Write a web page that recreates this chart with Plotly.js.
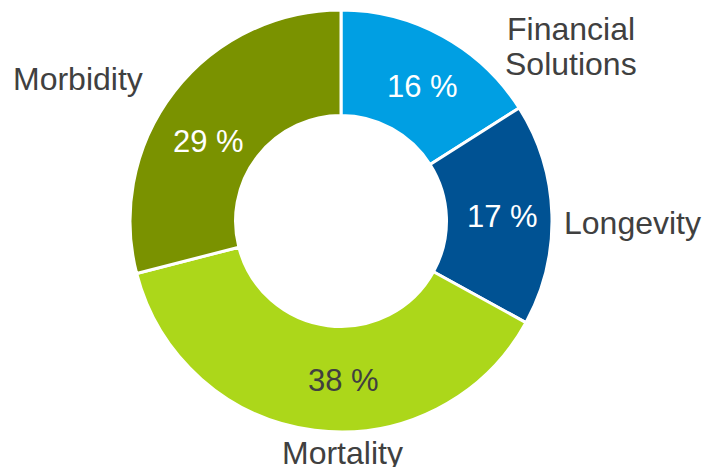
<!DOCTYPE html>
<html>
<head>
<meta charset="utf-8">
<script src="https://cdn.plot.ly/plotly-3.0.1.min.js"></script>
<style>
  html, body { margin: 0; padding: 0; background: #ffffff; }
  #chart { width: 708px; height: 467px; }
</style>
</head>
<body>
<div id="chart"></div>
<script>
// Business mix (share in %), clockwise from 12 o'clock
let segments = ['Financial Solutions', 'Longevity', 'Mortality', 'Morbidity'];
let shares = [16, 17, 38, 29];
let colors = ['#009fe3', '#005293', '#acd71a', '#7a9200'];
let pctColors = ['#ffffff', '#ffffff', '#404040', '#ffffff'];

// outside label lines and where each line sits (pixels in the 708x467 frame)
let labelLines = [['Financial', 'Solutions'], ['Longevity'], ['Mortality'], ['Morbidity']];
let labelPos = [[571, 29], [632, 223], [342, 453], [78, 79]];
// where the percent text sits inside each ring segment
let pctPos = [[422, 87], [502, 217], [343, 380], [208, 141]];

const W = 708, H = 467;
const font = 'Liberation Sans, Arial, sans-serif';
const lineGap = 35;

let trace = {
  type: 'pie',
  labels: segments,
  values: shares,
  sort: false,
  direction: 'clockwise',
  rotation: 0,
  hole: 0.5,
  marker: { colors: colors, line: { color: '#ffffff', width: 3 } },
  textinfo: 'none',
  hoverinfo: 'label+percent',
  showlegend: false,
  domain: { x: [0.1836, 0.7797], y: [0.0750, 0.9786] }
};

let annotations = [];
labelLines.forEach((lines, i) => {
  lines.forEach((t, k) => {
    annotations.push({
      text: t,
      x: labelPos[i][0] / W,
      y: 1 - (labelPos[i][1] + k * lineGap) / H,
      xref: 'paper', yref: 'paper',
      xanchor: 'center', yanchor: 'middle',
      showarrow: false,
      font: { family: font, size: 32, color: '#404040' }
    });
  });
});
shares.forEach((v, i) => {
  annotations.push({
    text: v + ' %',
    x: pctPos[i][0] / W,
    y: 1 - pctPos[i][1] / H,
    xref: 'paper', yref: 'paper',
    xanchor: 'center', yanchor: 'middle',
    showarrow: false,
    font: { family: font, size: 31, color: pctColors[i] }
  });
});

let layout = {
  width: W,
  height: H,
  margin: { l: 0, r: 0, t: 0, b: 0 },
  paper_bgcolor: '#ffffff',
  showlegend: false,
  annotations: annotations
};

Plotly.newPlot('chart', [trace], layout, { displayModeBar: false, staticPlot: true });
</script>
</body>
</html>
